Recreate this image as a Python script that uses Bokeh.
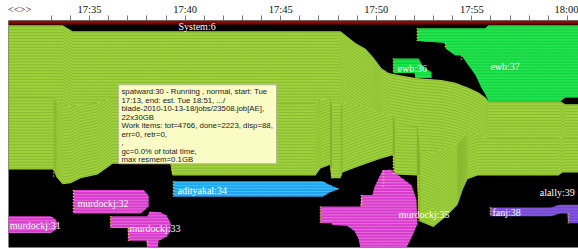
import numpy as np
from bokeh.plotting import figure
from bokeh.models import Range1d, FixedTicker, CustomJSTickFormatter
from bokeh.core.properties import value
from bokeh.embed import file_html
from bokeh.resources import INLINE

# ---- axis: minutes after 17:30, rows = job slots (top = 14) ----
tick_pos = [1.34, 5, 10, 15, 20, 25, 30]
tick_labels = ["<<>>", "17:35", "17:40", "17:45", "17:50", "17:55", "18:00"]
minor_pos = list(range(3, 31))
X_START, X_END = 0.76, 30.58
ROW_TOP, ROW_BOTTOM = 14, 247

# ---- jobs: upper and lower slot boundaries over time ----
system_top_x = [0.76, 30.58]
system_top_y = [14, 14]
system_bot_x = [0.76, 30.58]
system_bot_y = [18, 18]

spatward30_top_x = [0.76, 3.59, 4.11, 18.13, 18.91, 19.44, 19.85, 20.27, 20.64, 21.16,
                    22.05, 23.41, 24.14, 24.82, 25.35, 25.71, 25.87, 29.63, 29.89, 30.58]
spatward30_top_y = [19, 19, 25, 25, 37, 43, 52, 63, 68, 70,
                    73, 75, 78, 83, 88, 93, 97, 97, 100, 100]
spatward30_bot_x = [0.76, 3.12, 3.27, 3.59, 4.01, 4.53, 5.42, 5.99, 6.20, 9.24, 9.34,
                    16.82, 17.08, 17.60, 17.66, 18.13, 18.23, 19.17, 20.22, 20.90, 20.95,
                    22.15, 22.26, 22.99, 23.72, 24.25, 24.51, 24.77, 25.29, 29.53, 29.74, 30.58]
spatward30_bot_y = [167, 167, 175, 182, 181, 176, 172, 164, 161, 161, 173,
                    173, 166, 162, 176, 176, 170, 163, 156, 152, 172,
                    173, 220, 226, 214, 203, 188, 177, 173, 173, 170, 170]

ewb37_top_x = [22.15, 25.71, 25.87, 30.58]
ewb37_top_y = [22, 22, 19, 19]
ewb37_bot_x = [22.15, 23.60, 23.64, 24.14, 24.46, 24.82, 25.19, 25.50, 25.71, 25.87, 29.63, 29.89, 30.58]
ewb37_bot_y = [35, 37, 43, 50, 50, 60, 70, 83, 90, 97, 97, 93, 93]

ewb36_top_x = [20.90, 22.21, 22.47, 22.89]
ewb36_top_y = [53, 53, 62, 67]
ewb36_bot_x = [20.90, 22.00, 22.05, 22.89]
ewb36_bot_y = [68, 68, 73, 73]

adityakal34_top_x = [9.39, 17.19, 17.60, 18.02]
adityakal34_top_y = [179, 179, 183, 186.5]
adityakal34_bot_x = [9.39, 17.19, 17.60, 18.02]
adityakal34_bot_y = [195, 195, 190, 187.5]

murdockj31_top_x = [0.76, 2.96, 3.22, 3.33]
murdockj31_top_y = [215, 215, 218, 223]
murdockj31_bot_x = [0.76, 2.96, 3.22, 3.33]
murdockj31_bot_y = [232, 232, 229, 225]

murdockj32_top_x = [4.16, 7.82, 8.09]
murdockj32_top_y = [188, 188, 194]
murdockj32_bot_x = [4.16, 7.67, 8.09]
murdockj32_bot_y = [212, 212, 205]

murdockj33_top_x = [6.10, 8.03, 8.14, 8.71, 9.03, 9.24]
murdockj33_top_y = [215, 215, 210, 211, 214, 222]
murdockj33_bot_x = [6.10, 6.99, 7.04, 7.98, 8.03, 8.56, 8.61, 9.03, 9.24]
murdockj33_bot_y = [227, 227, 240, 240, 248, 248, 240, 236, 230]

murdockj35_top_x = [17.08, 19.17, 19.23, 19.80, 19.91, 20.32, 20.74, 21.16, 21.84, 22.10, 22.15]
murdockj35_top_y = [205, 205, 193, 193, 185, 168, 167, 173, 183, 198, 223]
murdockj35_bot_x = [17.08, 17.66, 17.71, 18.49, 18.86, 19.07, 19.17, 21.58, 21.84, 22.15]
murdockj35_bot_y = [222, 222, 224, 225, 230, 238, 247, 247, 237, 223]

fanj38_top_x = [25.97, 29.11, 29.63, 30.58]
fanj38_top_y = [206, 206, 203, 203]
fanj38_bot_x = [25.97, 29.11, 29.63, 30.00, 30.05, 30.58]
fanj38_bot_y = [215, 215, 212, 212, 222, 222]

# job start markers (time, first slot, last slot)
start_x = [4.16, 6.10, 7.04, 8.03, 9.39, 3.12, 9.34, 17.66, 20.90, 22.21,
           17.08, 19.23, 20.38, 20.90, 22.15, 23.62, 24.46, 25.97, 30.05]
start_y0 = [188, 215, 227, 240, 179, 167, 161, 166, 152, 173,
            205, 193, 168, 53, 22, 37, 50, 206, 212]
start_y1 = [212, 227, 240, 248, 195, 174, 173, 176, 172, 220,
            222, 205, 185, 68, 35, 43, 55, 215, 222]

# job labels
label_text = ["System:6", "ewb:36", "ewb:37", "adityakal:34", "murdockj:32", "murdockj:31",
              "murdockj:33", "murdockj:35", "fanj:38", "alally:39"]
label_x = [9.65, 21.11, 25.97, 9.60, 4.37, 0.82, 7.09, 21.16, 26.08, 28.55]
label_y = [20.5, 63, 61, 188, 202, 224, 227, 213, 211, 191]

tooltip_lines = [
    "spatward:30 - Running , normal, start: Tue",
    "17:13, end: est. Tue 18:51, .../",
    "blade-2010-10-13-18/jobs/23508.job[AE],",
    "22x30GB",
    "Work items: tot=4766, done=2223, disp=88,",
    "err=0, retr=0,",
    ",",
    "gc=0.0% of total time,",
    "max resmem=0.1GB",
]

p = figure(width=578, height=249, x_range=Range1d(X_START, X_END),
           y_range=Range1d(ROW_BOTTOM, ROW_TOP), x_axis_location="above",
           y_axis_location=None, toolbar_location=None, output_backend="svg",
           background_fill_color="black", border_fill_color="white",
           min_border=0, min_border_left=8, min_border_bottom=2,
           outline_line_color=None)
p.grid.visible = False

ax = p.xaxis[0]
ax.ticker = FixedTicker(ticks=tick_pos, minor_ticks=minor_pos)
ax.formatter = CustomJSTickFormatter(args=dict(pos=tick_pos, labels=tick_labels),
                                     code="const i = pos.indexOf(tick); return i >= 0 ? labels[i] : '';")
ax.axis_line_color = None
ax.major_tick_out = 0
ax.major_tick_in = 0
ax.minor_tick_out = 5
ax.minor_tick_in = 0
ax.minor_tick_line_color = "#777777"
ax.major_label_standoff = 1
ax.major_label_text_font = "Liberation Serif"
ax.major_label_text_font_size = "10.5px"
ax.major_label_text_color = "#111111"


def stripes(tx, ty, bx, by, mode, n=800, gap=3.0):
    lo = max(tx[0], bx[0])
    hi = min(tx[-1], bx[-1])
    xg = np.linspace(lo, hi, n)
    t = np.interp(xg, tx, ty)
    b = np.interp(xg, bx, by)
    xs_list, ys_list = [], []
    if mode == "flat":
        for yk in np.arange(t.min() + gap / 2, b.max(), gap):
            yy = np.where((yk >= t) & (yk <= b), yk, np.nan)
            if np.isfinite(yy).any():
                xs_list.append(xg)
                ys_list.append(yy)
    else:
        mid = (t + b) / 2
        k = 0
        while k < 200:
            yt = t + gap / 2 + gap * k
            yb = b - gap / 2 - gap * k
            ok_t = yt <= mid
            ok_b = yb > mid
            if not ok_t.any() and not ok_b.any():
                break
            xs_list += [xg, xg]
            ys_list += [np.where(ok_t, yt, np.nan), np.where(ok_b, yb, np.nan)]
            k += 1
    return xs_list, ys_list


def job(tx, ty, bx, by, fill, stripe, mode="flat", width=1.0):
    p.patch(list(tx) + list(bx)[::-1], list(ty) + list(by)[::-1],
            fill_color=fill, line_color=None)
    xs, ys = stripes(tx, ty, bx, by, mode)
    if xs:
        p.multi_line(xs, ys, line_color=stripe, line_width=width)


job(system_top_x, system_top_y, system_bot_x, system_bot_y, "#7a0000", "#a01818")
job(spatward30_top_x, spatward30_top_y, spatward30_bot_x, spatward30_bot_y,
    "#a0d23e", "#84b42e", mode="flow")
job(ewb37_top_x, ewb37_top_y, ewb37_bot_x, ewb37_bot_y, "#22e44e", "#19c940")
job(ewb36_top_x, ewb36_top_y, ewb36_bot_x, ewb36_bot_y, "#22e44e", "#19c940")
job(adityakal34_top_x, adityakal34_top_y, adityakal34_bot_x, adityakal34_bot_y,
    "#1ea6f4", "#5ec4ff")
for tx, ty, bx, by in [
    (murdockj31_top_x, murdockj31_top_y, murdockj31_bot_x, murdockj31_bot_y),
    (murdockj32_top_x, murdockj32_top_y, murdockj32_bot_x, murdockj32_bot_y),
    (murdockj33_top_x, murdockj33_top_y, murdockj33_bot_x, murdockj33_bot_y),
    (murdockj35_top_x, murdockj35_top_y, murdockj35_bot_x, murdockj35_bot_y),
]:
    job(tx, ty, bx, by, "#d83ccc", "#ee88e6")
job(fanj38_top_x, fanj38_top_y, fanj38_bot_x, fanj38_bot_y, "#7446d4", "#9a78ea")

# job start markers
p.segment(x0=start_x, y0=start_y0, x1=start_x, y1=start_y1,
          line_color="#f2e21a", line_width=1.5, line_dash="1 2")

# labels
p.text(x=label_x, y=label_y, text=label_text, text_color="white",
       text_font=value("Liberation Serif"), text_font_size="10px",
       text_baseline="middle", text_align="left")

# hover tooltip box
TIP_L, TIP_R, TIP_T, TIP_B = 6.52, 14.78, 80, 161
p.quad(left=[TIP_L], right=[TIP_R], top=[TIP_T], bottom=[TIP_B],
       fill_color="#fbfbc6", line_color="#b8b898", line_width=1)
tip_y = [87 + 8.75 * i for i in range(len(tooltip_lines))]
p.text(x=[6.67] * len(tooltip_lines), y=tip_y, text=tooltip_lines,
       text_color="#1a1a1a", text_font=value("Liberation Sans"),
       text_font_size="7.8px", text_baseline="middle", text_align="left")

open("out.html", "w").write(file_html(p, INLINE))
